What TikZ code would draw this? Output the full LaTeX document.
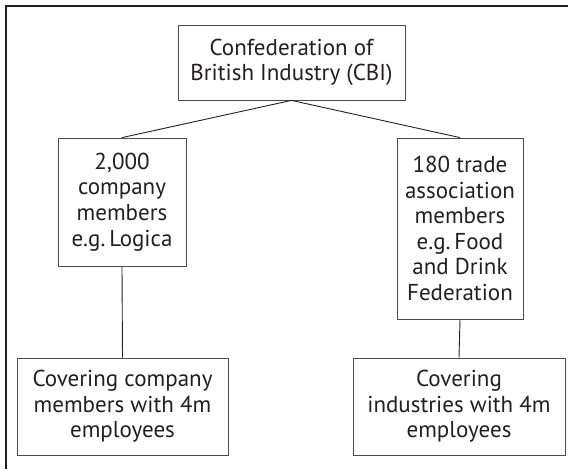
\documentclass[tikz,border=0pt]{standalone}
\usepackage{fontspec}
\setmainfont{PT Sans}
\definecolor{ink}{HTML}{231F20}
\tikzset{
    box/.style = {draw=black!70, line width=0.8pt, align=center, inner sep=0pt,
                  font=\fontsize{23}{25.6}\selectfont, text=ink},
    link/.style = {draw=ink, line width=0.9pt}
}
\begin{document}
\begin{tikzpicture}[x=1pt,y=-1pt]
    \useasboundingbox (0,0) rectangle (573,469);
    \draw [ink, line width=1.2pt] (6,469) -- (6,6) -- (568,6);
    % organisation tree
    \node [box, minimum width=227pt, minimum height=75pt] (cbi) at (291.5,62.5)
        {Confederation of\\British Industry (CBI)};
    \node [box, minimum width=128pt, minimum height=128pt] (company) at (122,202)
        {2,000\\company\\members\\e.g.\,Logica};
    \node [box, minimum width=126pt, minimum height=181pt] (trade) at (460,228.5)
        {180 trade\\association\\members\\e.g.\,Food\\and Drink\\Federation};
    \node [box, minimum width=211pt, minimum height=97pt] (compcover) at (122.5,406.5)
        {Covering company\\members with 4m\\employees};
    \node [box, minimum width=212pt, minimum height=97pt] (tradecover) at (459,406.5)
        {Covering\\industries with 4m\\employees};
    \draw [link] (company.north) -- (cbi.south) -- (trade.north);
    \draw [link] (company.south) -- (compcover.north);
    \draw [link] (trade.south) -- (tradecover.north);
\end{tikzpicture}
\end{document}
